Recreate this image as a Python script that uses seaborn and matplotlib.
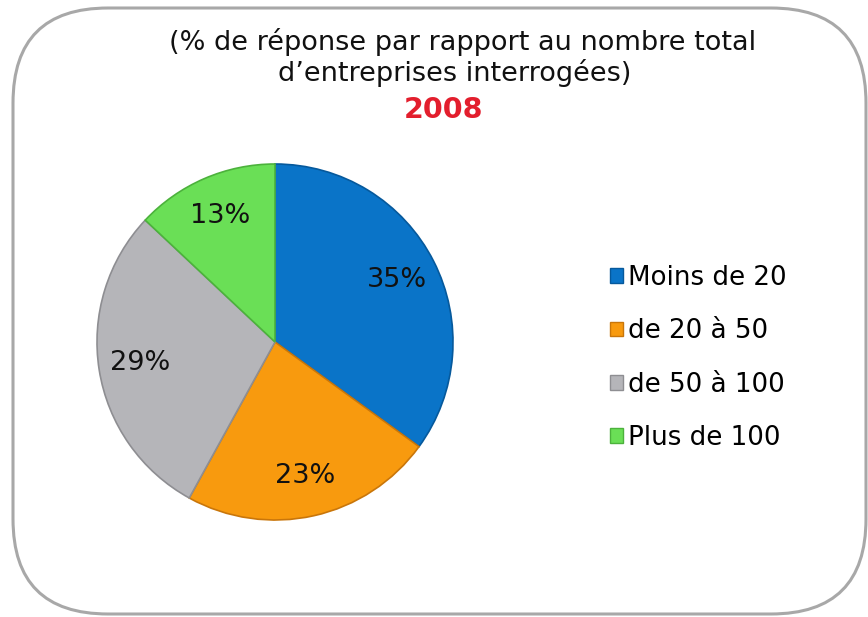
import matplotlib
matplotlib.use("Agg")
import matplotlib.pyplot as plt
import seaborn as sns
from matplotlib.patches import FancyBboxPatch, Patch

# ---- data ----
categories = ["Moins de 20", "de 20 à 50", "de 50 à 100", "Plus de 100"]
values = [35, 23, 29, 13]
colors = ["#0A74C8", "#F89A0E", "#B5B5B9", "#6ADF56"]
edge_colors = ["#06599C", "#C9760A", "#8E8E92", "#4CB23C"]
title_lines = ["(% de réponse par rapport au nombre total", "d’entreprises interrogées)"]
year = "2008"

sns.set_theme(style="white")
plt.rcParams["font.family"] = ["DejaVu Sans"]

W, H = 868, 617
fig = plt.figure(figsize=(W / 100, H / 100), dpi=100)
fig.patch.set_facecolor("white")

# background axes in pixel units for the frame and texts
bg = fig.add_axes([0, 0, 1, 1])
bg.set_xlim(0, W)
bg.set_ylim(H, 0)
bg.axis("off")
frame = FancyBboxPatch((13, 8), 853, 606,
                       boxstyle="round,pad=0,rounding_size=95",
                       facecolor="white", edgecolor="#A8A8A8", linewidth=2.2)
bg.add_patch(frame)

bg.text(463, 42, title_lines[0], ha="center", va="center", fontsize=19.5, color="#111111")
bg.text(455, 73, title_lines[1], ha="center", va="center", fontsize=19.5, color="#111111")
bg.text(444, 110, year, ha="center", va="center", fontsize=20.5, fontweight="bold", color="#E31E2D")

# pie axes
cx, cy, r = 275, 342, 178
ax = fig.add_axes([(cx - r) / W, (H - cy - r) / H, 2 * r / W, 2 * r / H])
wedges, texts, autotexts = ax.pie(
    values, colors=colors, startangle=90, counterclock=False,
    autopct=lambda p: f"{p:.0f}%", pctdistance=0.77,
    wedgeprops=dict(linewidth=1.2), textprops=dict(fontsize=19.5, color="#111111"),
)
for w, ec in zip(wedges, edge_colors):
    w.set_edgecolor(ec)
ax.set_xlim(-1, 1)
ax.set_ylim(-1, 1)
ax.set_aspect("equal")
ax.axis("off")

handles = [Patch(facecolor=c, edgecolor=ec, linewidth=1) for c, ec in zip(colors, edge_colors)]
leg = fig.legend(handles, categories, loc="center left",
                 bbox_to_anchor=(597 / W, 1 - 358 / H), frameon=False,
                 fontsize=18.8, handlelength=0.5, handleheight=0.5,
                 handletextpad=0.2, labelspacing=1.05, borderpad=0)
for t in leg.get_texts():
    t.set_color("#000000")

fig.savefig("out.png", dpi=100)
